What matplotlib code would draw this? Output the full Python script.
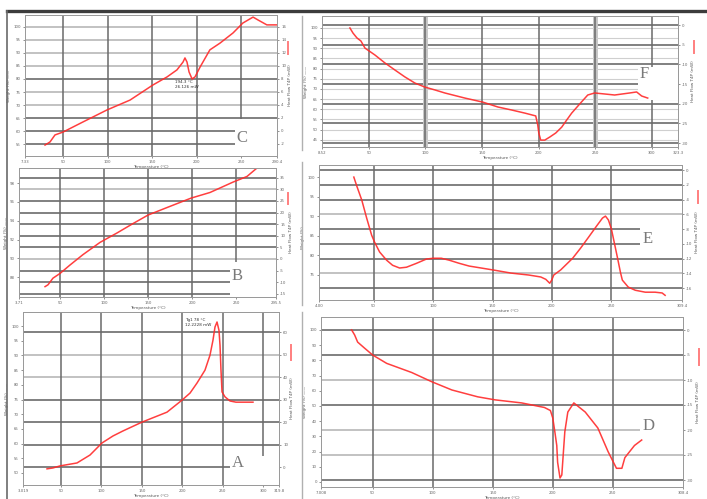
import numpy as np
import matplotlib
matplotlib.use("Agg")
import matplotlib.pyplot as plt
from matplotlib.lines import Line2D
from matplotlib.patches import Rectangle

W, H = 707, 499
RED = "#ff2a2a"

# ── data ──────────────────────────────────────────────────────────────────────
C_TEMP = [29.8, 35.4, 41.0, 50.0, 72.5, 99.4, 125.3, 151.0, 166.9, 178.0, 184.8,
          187.0, 189.3, 191.6, 195.0, 198.3, 204.0, 215.0, 226.4, 241.0, 252.0,
          263.5, 269.0, 279.0, 290.0]
C_WEIGHT = [54.6, 55.8, 58.5, 59.6, 63.5, 68.1, 71.9, 77.7, 80.8, 83.5, 86.5,
            88.1, 86.5, 82.7, 80.0, 80.8, 84.6, 91.2, 93.8, 97.7, 101.5,
            103.8, 102.7, 100.8, 100.8]

B_TEMP = [33.0, 36.4, 42.0, 50.0, 61.4, 76.1, 95.5, 114.8, 133.0, 150.0, 171.6,
          198.9, 220.5, 246.6, 262.5, 273.9, 279.5]
B_WEIGHT = [87.0, 87.2, 87.9, 88.4, 89.3, 90.4, 91.7, 92.7, 93.7, 94.6, 95.4,
            96.4, 97.0, 98.1, 98.7, 99.6, 100.1]

A_TEMP = [32.7, 40.0, 48.8, 69.8, 85.9, 100.7, 114.4, 126.7, 150.2, 181.2, 199.8,
          209.7, 218.3, 228.2, 234.4, 238.1, 240.6, 243.1, 245.5, 246.8, 248.0,
          249.3, 253.0, 259.2, 266.6, 287.6]
A_WEIGHT = [51.4, 51.7, 52.4, 53.4, 56.1, 60.2, 62.6, 64.3, 67.3, 70.7, 74.8,
            77.2, 80.6, 85.0, 90.1, 95.2, 99.7, 101.4, 98.6, 93.5, 85.0,
            77.6, 75.9, 74.5, 74.1, 74.1]

F_TEMP = [33.2, 35.9, 39.4, 42.9, 46.5, 55.3, 64.1, 73.0, 81.8, 90.6, 99.5, 108.3,
          117.1, 134.8, 150.7, 164.0, 176.3, 187.8, 197.5, 199.3, 200.2, 201.9,
          205.5, 209.9, 215.2, 220.5, 224.9, 229.3, 236.4, 243.5, 249.6, 267.3,
          280.6, 286.7, 291.2, 296.5]
F_WEIGHT = [100.0, 97.5, 95.1, 93.6, 90.1, 86.7, 82.8, 79.3, 75.9, 72.9, 70.9, 69.5,
            68.0, 65.5, 63.5, 61.1, 59.6, 58.1, 56.7, 52.2, 48.3, 44.8,
            44.8, 46.3, 48.3, 51.2, 54.7, 58.1, 62.6, 67.0, 68.0, 67.0,
            68.0, 68.5, 66.5, 65.5]

E_TEMP = [33.3, 35.8, 40.0, 44.1, 48.3, 50.8, 55.0, 60.9, 65.9, 71.8, 77.6, 86.0,
          94.4, 100.2, 106.9, 113.6, 122.0, 130.3, 140.4, 150.4, 165.5, 180.5,
          190.6, 194.8, 198.1, 199.8, 201.5, 207.3, 217.4, 224.1, 230.8, 237.4,
          242.5, 245.0, 247.5, 250.0, 252.5, 255.0, 257.6, 259.2, 264.2, 270.1,
          278.5, 286.8, 292.7, 295.2]
E_WEIGHT = [100.0, 97.7, 94.1, 89.5, 85.1, 83.3, 80.8, 78.7, 77.4, 76.7, 76.9, 77.9,
            79.0, 79.2, 79.2, 78.7, 77.9, 77.2, 76.7, 76.2, 75.4, 74.9,
            74.4, 73.8, 72.8, 73.6, 74.9, 76.2, 79.2, 81.8, 84.6, 87.4,
            89.5, 90.0, 89.0, 86.7, 83.1, 79.5, 75.6, 73.6, 71.8, 71.0,
            70.5, 70.5, 70.3, 69.7]

D_TEMP = [32.5, 35.0, 37.5, 43.3, 50.0, 61.7, 82.5, 99.0, 116.0, 137.5, 152.0,
          174.0, 193.0, 198.0, 200.0, 201.7, 203.3, 204.0, 206.0, 207.5, 210.0,
          212.5, 217.5, 227.0, 237.5, 246.0, 253.0, 257.5, 260.0, 268.0, 274.0]
D_WEIGHT = [100.0, 96.7, 92.0, 88.0, 83.5, 78.0, 72.0, 66.0, 60.5, 56.0, 54.0,
            52.0, 49.0, 47.0, 42.0, 33.0, 24.0, 13.0, 2.6, 4.6, 33.0,
            46.0, 52.0, 46.0, 35.5, 20.0, 9.0, 9.0, 16.0, 24.0, 27.6]

# tick labels as printed on the instrument plots
C_XLABELS = ["7.33", "50", "100", "150", "200", "250", "290.4"]
B_XLABELS = ["3.71", "50", "100", "150", "200", "250", "295.5"]
A_XLABELS = ["3.019", "50", "100", "150", "200", "250", "300", "319.8"]
F_XLABELS = ["8.52", "50", "100", "150", "200", "250", "300", "323.3"]
E_XLABELS = ["4.00", "50", "100", "150", "200", "250", "309.4"]
D_XLABELS = ["7.008", "50", "100", "150", "200", "250", "308.4"]

C_LEFT = [55, 60, 65, 70, 75, 80, 85, 90, 95, 100]
B_LEFT = [88, 90, 92, 94, 96, 98]
A_LEFT = [50, 55, 60, 65, 70, 75, 80, 85, 90, 95, 100]
F_LEFT = [45, 50, 55, 60, 65, 70, 75, 80, 85, 90, 95, 100]
E_LEFT = [75, 80, 85, 90, 95, 100]
D_LEFT = [0, 10, 20, 30, 40, 50, 60, 70, 80, 90, 100]

C_RIGHT = [-2, 0, 2, 4, 6, 8, 10, 12, 14, 16]
B_RIGHT = [-15, -10, -5, 0, 5, 10, 15, 20, 25, 30, 35]
A_RIGHT = [0, 10, 20, 30, 40, 50, 60]
F_RIGHT = [-30, -25, -20, -15, -10, -5, 0]
E_RIGHT = [-16, -14, -12, -10, -8, -6, -4, -2, 0]
D_RIGHT = [-30, -25, -20, -15, -10, -5, 0]

# ── panel layout (pixel boxes of the plot areas) ──────────────────────────────
PANELS = [
    dict(tag="C", box=(25, 15, 277, 156), t=C_TEMP, w=C_WEIGHT, xlim=(7.3, 290.4),
         ylim=(50.4, 104.6), xl=C_XLABELS, left=C_LEFT, right=C_RIGHT,
         rlim=(-3.85, 17.8), light=[4, 6, 10, 12, 14, 16], lgrid=False,
         letter=(0.86, 0.13), patch=(0.835, 0.0, 0.165, 0.26)),
    dict(tag="B", box=(19, 168, 276, 297), t=B_TEMP, w=B_WEIGHT, xlim=(3.4, 295.5),
         ylim=(85.9, 99.6), xl=B_XLABELS, left=B_LEFT, right=B_RIGHT,
         rlim=(-16.4, 39.2), light=[30, 0], lgrid=False,
         letter=(0.85, 0.16), patch=(0.82, 0.0, 0.18, 0.27)),
    dict(tag="A", box=(23, 312, 279, 485), t=A_TEMP, w=A_WEIGHT, xlim=(3.0, 319.8),
         ylim=(45.9, 104.8), xl=A_XLABELS, left=A_LEFT, right=A_RIGHT,
         rlim=(-8.0, 68.9), light=[40, 50], lgrid=False,
         letter=(0.84, 0.13), patch=(0.81, 0.0, 0.19, 0.17)),
    dict(tag="F", box=(322, 16, 678, 147), t=F_TEMP, w=F_WEIGHT, xlim=(8.5, 323.3),
         ylim=(41.4, 105.9), xl=F_XLABELS, left=F_LEFT, right=F_RIGHT,
         rlim=(-31.0, 2.3), light=[], lgrid=True, bands=[100, 250],
         letter=(0.905, 0.555), patch=(0.888, 0.36, 0.112, 0.25)),
    dict(tag="E", box=(319, 165, 682, 300), t=E_TEMP, w=E_WEIGHT, xlim=(4.0, 309.4),
         ylim=(68.5, 103.1), xl=E_XLABELS, left=E_LEFT, right=E_RIGHT,
         rlim=(-17.6, 0.7), light=[-6, -14], lgrid=False,
         letter=(0.905, 0.45), patch=(0.885, 0.36, 0.115, 0.17)),
    dict(tag="D", box=(321, 317, 683, 487), t=D_TEMP, w=D_WEIGHT, xlim=(7.0, 308.4),
         ylim=(-3.3, 108.5), xl=D_XLABELS, left=D_LEFT, right=D_RIGHT,
         rlim=(-31.4, 2.6), light=[-10, -20, -25], lgrid=False,
         letter=(0.905, 0.36), patch=(0.88, 0.30, 0.12, 0.15)),
]

ANNOT = {
    "C": (176, 79.6, "194.3 °C\n26.126 mW"),
    "A": (203.5, 102.7, "Tg1 78 °C\n12.2228 mW"),
}


def px_rect(x0, y0, x1, y1):
    return [x0 / W, 1 - y1 / H, (x1 - x0) / W, (y1 - y0) / H]


def fig_line(fig, x0, y0, x1, y1, **kw):
    fig.add_artist(Line2D([x0 / W, x1 / W], [1 - y0 / H, 1 - y1 / H],
                          transform=fig.transFigure, **kw))


fig = plt.figure(figsize=(W / 100, H / 100), dpi=100)
fig.patch.set_facecolor("white")

for p in PANELS:
    ax = fig.add_axes(px_rect(*p["box"]))
    ax2 = ax.twinx()
    ax.set_zorder(ax2.get_zorder() + 1)
    ax.patch.set_visible(False)

    xt = [p["xlim"][0], 50, 100, 150, 200, 250]
    if len(p["xl"]) == 8:
        xt.append(300)
    xt.append(p["xlim"][1])
    ax.set_xlim(*p["xlim"])
    ax.set_xticks(xt)
    ax.set_xticklabels(p["xl"])
    ax.set_ylim(*p["ylim"])
    ax.set_yticks(p["left"])
    ax.set_yticklabels([str(v) for v in p["left"]])

    ax2.set_ylim(*p["rlim"])
    ax2.set_yticks(p["right"])
    ax2.set_yticklabels([str(v) for v in p["right"]])

    # vertical grid on the 50 °C steps only
    for xv in xt[1:-1]:
        ax.axvline(xv, color="#6a6a6a", lw=1.1, zorder=0.6)
    for xv in p.get("bands", []):
        ax.axvline(xv, color="#c4c4c4", lw=3.5, zorder=0.5)
    if p["lgrid"]:
        for yv in p["left"]:
            ax.axhline(yv, color="#cfcfcf", lw=0.8, zorder=0.5)
    for rv in p["right"]:
        c = "#b2b2b2" if rv in p["light"] else "#5e5e5e"
        ax2.axhline(rv, color=c, lw=1.1)

    for a in (ax, ax2):
        for s in a.spines.values():
            s.set_color("#9a9a9a")
            s.set_linewidth(0.7)
        a.tick_params(labelsize=2.8, colors="#666666", length=1.5, width=0.5, pad=1.5)

    ax.plot(p["t"], p["w"], color=RED, lw=1.1, alpha=0.9, zorder=2)

    ax.add_patch(Rectangle(p["patch"][:2], p["patch"][2], p["patch"][3],
                           transform=ax.transAxes, facecolor="white",
                           edgecolor="none", zorder=1.5))
    ax.text(*p["letter"], p["tag"], transform=ax.transAxes, fontsize=12,
            family="Liberation Serif", color="#7a7a7a", ha="center", va="center",
            zorder=3)

    if p["tag"] in ANNOT:
        tx, ty, s = ANNOT[p["tag"]]
        ax.text(tx, ty, s, fontsize=3, color="#333333", va="top", zorder=3,
                linespacing=1.4)

    ax.set_xlabel("Temperature (°C)", fontsize=3, color="#555555", labelpad=0.5)
    ax.set_ylabel("Weight (%) ——", fontsize=3, color="#555555", labelpad=1.5)
    ax2.set_ylabel("Heat Flow T4P (mW)", fontsize=3, color="#555555", labelpad=1.5)
    ax.plot([1.045, 1.045], [0.72, 0.81], transform=ax.transAxes, clip_on=False,
            color=RED, lw=1.4, alpha=0.6)

# ── screenshot frame lines ────────────────────────────────────────────────────
fig_line(fig, 7, 11, 706, 11, color="#3c3c3c", lw=2.4)
fig_line(fig, 7, 11, 7, 499, color="#6a6a6a", lw=1.2)
fig_line(fig, 302, 16, 302, 150, color="#b0b0b0", lw=1.0)
fig_line(fig, 302, 162, 302, 305, color="#b0b0b0", lw=1.0)
fig_line(fig, 302, 312, 302, 499, color="#b0b0b0", lw=1.0)

fig.savefig("out.png", dpi=100, facecolor="white")
